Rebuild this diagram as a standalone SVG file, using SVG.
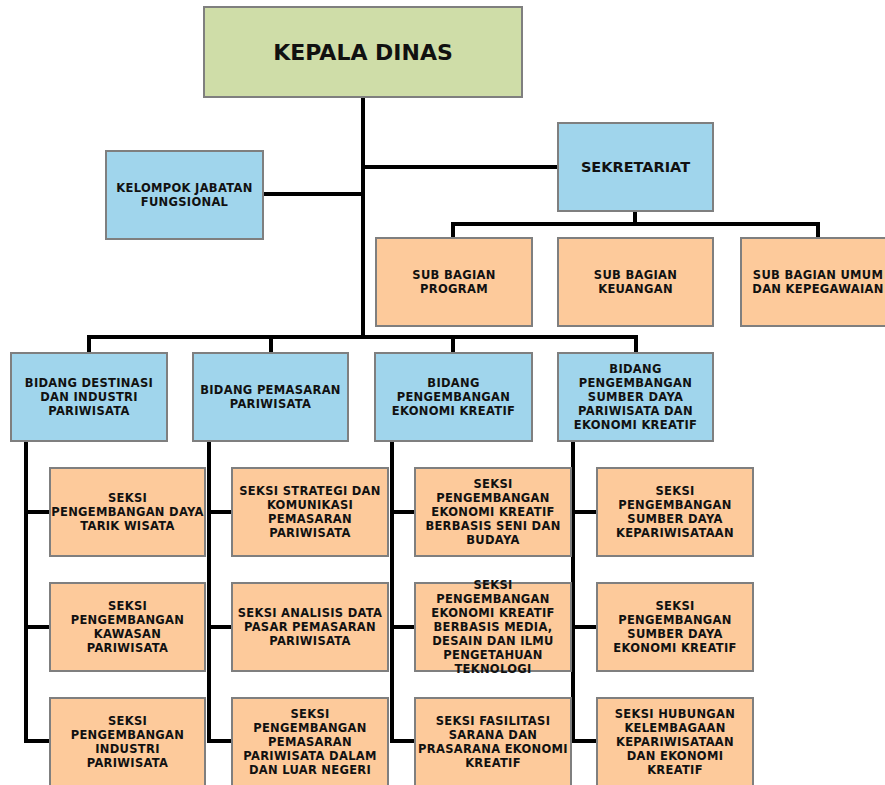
<svg xmlns="http://www.w3.org/2000/svg" width="885" height="785" viewBox="0 0 885 785">
<style>
.g{fill:#CFDDA8}
.bl{fill:#A0D5EC}
.pe{fill:#FDCA9B}
.g,.bl,.pe{stroke:#7F7F7F;stroke-width:2}
text{font-family:"DejaVu Sans",Verdana,sans-serif;font-weight:bold;fill:#111;text-anchor:middle}
.s{font-size:11.5px;letter-spacing:0.3px}
.m{font-size:14.5px}
.l{font-size:22px}
.c{fill:none;stroke:#000;stroke-width:4;stroke-linejoin:miter}
</style>
<g id="connectors">
<path class="c" d="M363 97V337M263 194H363M363 167H558M635 211V224M453 238V224H818V238M89 353V337H636V353M271 337V353M453 337V353"/>
<path class="c" d="M26 441V741H50M26 512H50M26 627H50"/>
<path class="c" d="M209 441V741H232M209 512H232M209 627H232"/>
<path class="c" d="M392 441V741H415M392 512H415M392 627H415"/>
<path class="c" d="M573 441V741H597M573 512H597M573 627H597"/>
</g>
<g id="kepala"><rect class="g" x="204" y="7" width="318" height="90"/><text class="l" x="363" y="60">KEPALA DINAS</text></g>
<g id="kelompok"><rect class="bl" x="106" y="151" width="157" height="88"/><text class="s"><tspan x="184.5" y="192">KELOMPOK JABATAN</tspan><tspan x="184.5" y="206">FUNGSIONAL</tspan></text></g>
<g id="sekretariat"><rect class="bl" x="558" y="123" width="155" height="88"/><text class="m" x="635.5" y="172">SEKRETARIAT</text></g>
<g id="sub-program"><rect class="pe" x="376" y="238" width="156" height="88"/><text class="s"><tspan x="454" y="279">SUB BAGIAN</tspan><tspan x="454" y="293">PROGRAM</tspan></text></g>
<g id="sub-keuangan"><rect class="pe" x="558" y="238" width="155" height="88"/><text class="s"><tspan x="635.5" y="279">SUB BAGIAN</tspan><tspan x="635.5" y="293">KEUANGAN</tspan></text></g>
<g id="sub-umum"><rect class="pe" x="741" y="238" width="156" height="88"/><text class="s"><tspan x="818" y="279">SUB BAGIAN UMUM</tspan><tspan x="818" y="293">DAN KEPEGAWAIAN</tspan></text></g>
<g id="bidang-destinasi"><rect class="bl" x="11" y="353" width="156" height="88"/><text class="s"><tspan x="89" y="387">BIDANG DESTINASI</tspan><tspan x="89" y="401">DAN INDUSTRI</tspan><tspan x="89" y="415">PARIWISATA</tspan></text></g>
<g id="bidang-pemasaran"><rect class="bl" x="193" y="353" width="155" height="88"/><text class="s"><tspan x="270.5" y="393.5">BIDANG PEMASARAN</tspan><tspan x="270.5" y="407.5">PARIWISATA</tspan></text></g>
<g id="bidang-ekraf"><rect class="bl" x="375" y="353" width="157" height="88"/><text class="s"><tspan x="453.5" y="387">BIDANG</tspan><tspan x="453.5" y="401">PENGEMBANGAN</tspan><tspan x="453.5" y="415">EKONOMI KREATIF</tspan></text></g>
<g id="bidang-sdm"><rect class="bl" x="558" y="353" width="155" height="88"/><text class="s"><tspan x="635.5" y="373">BIDANG</tspan><tspan x="635.5" y="387">PENGEMBANGAN</tspan><tspan x="635.5" y="401">SUMBER DAYA</tspan><tspan x="635.5" y="415">PARIWISATA DAN</tspan><tspan x="635.5" y="429">EKONOMI KREATIF</tspan></text></g>
<g id="seksi-1-1"><rect class="pe" x="50" y="468" width="155" height="88"/><text class="s"><tspan x="127.5" y="502">SEKSI</tspan><tspan x="127.5" y="516">PENGEMBANGAN DAYA</tspan><tspan x="127.5" y="530">TARIK WISATA</tspan></text></g>
<g id="seksi-1-2"><rect class="pe" x="50" y="583" width="155" height="88"/><text class="s"><tspan x="127.5" y="610">SEKSI</tspan><tspan x="127.5" y="624">PENGEMBANGAN</tspan><tspan x="127.5" y="638">KAWASAN</tspan><tspan x="127.5" y="652">PARIWISATA</tspan></text></g>
<g id="seksi-1-3"><rect class="pe" x="50" y="698" width="155" height="88"/><text class="s"><tspan x="127.5" y="725">SEKSI</tspan><tspan x="127.5" y="739">PENGEMBANGAN</tspan><tspan x="127.5" y="753">INDUSTRI</tspan><tspan x="127.5" y="767">PARIWISATA</tspan></text></g>
<g id="seksi-2-1"><rect class="pe" x="232" y="468" width="156" height="88"/><text class="s"><tspan x="310" y="495">SEKSI STRATEGI DAN</tspan><tspan x="310" y="509">KOMUNIKASI</tspan><tspan x="310" y="523">PEMASARAN</tspan><tspan x="310" y="537">PARIWISATA</tspan></text></g>
<g id="seksi-2-2"><rect class="pe" x="232" y="583" width="156" height="88"/><text class="s"><tspan x="310" y="617">SEKSI ANALISIS DATA</tspan><tspan x="310" y="631">PASAR PEMASARAN</tspan><tspan x="310" y="645">PARIWISATA</tspan></text></g>
<g id="seksi-2-3"><rect class="pe" x="232" y="698" width="156" height="88"/><text class="s"><tspan x="310" y="718">SEKSI</tspan><tspan x="310" y="732">PENGEMBANGAN</tspan><tspan x="310" y="746">PEMASARAN</tspan><tspan x="310" y="760">PARIWISATA DALAM</tspan><tspan x="310" y="774">DAN LUAR NEGERI</tspan></text></g>
<g id="seksi-3-1"><rect class="pe" x="415" y="468" width="156" height="88"/><text class="s"><tspan x="493" y="488">SEKSI</tspan><tspan x="493" y="502">PENGEMBANGAN</tspan><tspan x="493" y="516">EKONOMI KREATIF</tspan><tspan x="493" y="530">BERBASIS SENI DAN</tspan><tspan x="493" y="544">BUDAYA</tspan></text></g>
<g id="seksi-3-2"><rect class="pe" x="415" y="583" width="156" height="88"/><text class="s"><tspan x="493" y="589">SEKSI</tspan><tspan x="493" y="603">PENGEMBANGAN</tspan><tspan x="493" y="617">EKONOMI KREATIF</tspan><tspan x="493" y="631">BERBASIS MEDIA,</tspan><tspan x="493" y="645">DESAIN DAN ILMU</tspan><tspan x="493" y="659">PENGETAHUAN</tspan><tspan x="493" y="673">TEKNOLOGI</tspan></text></g>
<g id="seksi-3-3"><rect class="pe" x="415" y="698" width="156" height="88"/><text class="s"><tspan x="493" y="725">SEKSI FASILITASI</tspan><tspan x="493" y="739">SARANA DAN</tspan><tspan x="493" y="753">PRASARANA EKONOMI</tspan><tspan x="493" y="767">KREATIF</tspan></text></g>
<g id="seksi-4-1"><rect class="pe" x="597" y="468" width="156" height="88"/><text class="s"><tspan x="675" y="495">SEKSI</tspan><tspan x="675" y="509">PENGEMBANGAN</tspan><tspan x="675" y="523">SUMBER DAYA</tspan><tspan x="675" y="537">KEPARIWISATAAN</tspan></text></g>
<g id="seksi-4-2"><rect class="pe" x="597" y="583" width="156" height="88"/><text class="s"><tspan x="675" y="610">SEKSI</tspan><tspan x="675" y="624">PENGEMBANGAN</tspan><tspan x="675" y="638">SUMBER DAYA</tspan><tspan x="675" y="652">EKONOMI KREATIF</tspan></text></g>
<g id="seksi-4-3"><rect class="pe" x="597" y="698" width="156" height="88"/><text class="s"><tspan x="675" y="718">SEKSI HUBUNGAN</tspan><tspan x="675" y="732">KELEMBAGAAN</tspan><tspan x="675" y="746">KEPARIWISATAAN</tspan><tspan x="675" y="760">DAN EKONOMI</tspan><tspan x="675" y="774">KREATIF</tspan></text></g>
</svg>
